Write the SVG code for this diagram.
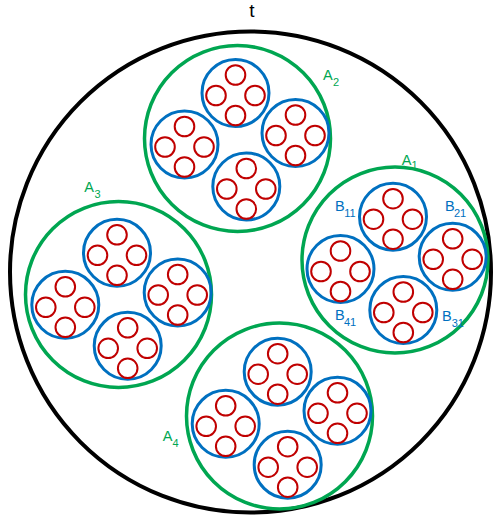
<svg xmlns="http://www.w3.org/2000/svg" xmlns:xlink="http://www.w3.org/1999/xlink" width="498" height="521" viewBox="0 0 498 521">
<style>
.outer{fill:none;stroke:#000;stroke-width:4}
.ga{fill:none;stroke:#00A651;stroke-width:3.5}
.bb{fill:none;stroke:#0070C0;stroke-width:3}
.rc{fill:none;stroke:#C00000;stroke-width:2}
.lbl{font-family:"Liberation Sans",Arial,sans-serif;font-size:14.5px}
.sub{font-size:11px}
.ga-t{fill:#00A651}
.bb-t{fill:#0070C0}
.tt{font-family:"Liberation Sans",Arial,sans-serif;font-size:19px;fill:#000}
</style>
<defs>
<g id="unit">
<circle class="bb" cx="0" cy="0" r="33.5"/>
<circle class="rc" cx="0" cy="-18" r="9.8"/>
<circle class="rc" cx="-19.5" cy="2.5" r="9.8"/>
<circle class="rc" cx="19.5" cy="2.5" r="9.8"/>
<circle class="rc" cx="0" cy="22.5" r="9.8"/>
</g>
</defs>
<g id="t">
<circle class="outer" cx="250.5" cy="272" r="240.5"/>
<text class="tt" x="252" y="16.5" text-anchor="middle">t</text>
</g>
<g id="A2">
<circle class="ga" cx="237.5" cy="138.5" r="93"/>
<use xlink:href="#unit" href="#unit" x="235.5" y="93"/>
<use xlink:href="#unit" href="#unit" x="184.5" y="144.5"/>
<use xlink:href="#unit" href="#unit" x="295.5" y="133"/>
<use xlink:href="#unit" href="#unit" x="246.3" y="186.5"/>
<text class="lbl ga-t" x="323" y="80">A<tspan class="sub" x="333" y="85.5">2</tspan></text>
</g>
<g id="A1">
<circle class="ga" cx="395" cy="260" r="93"/>
<g id="B11"><use xlink:href="#unit" href="#unit" x="393" y="216.7"/><text class="lbl bb-t" x="335" y="211">B<tspan class="sub" x="344.3" y="216.5">11</tspan></text></g>
<g id="B21"><use xlink:href="#unit" href="#unit" x="452.7" y="256.8"/><text class="lbl bb-t" x="445" y="211">B<tspan class="sub" x="454" y="217">21</tspan></text></g>
<g id="B41"><use xlink:href="#unit" href="#unit" x="340.5" y="269"/><text class="lbl bb-t" x="335" y="320">B<tspan class="sub" x="344" y="325.5">41</tspan></text></g>
<g id="B31"><use xlink:href="#unit" href="#unit" x="403.3" y="310"/><text class="lbl bb-t" x="442" y="320.7">B<tspan class="sub" x="451.7" y="326.5">31</tspan></text></g>
<text class="lbl ga-t" x="401.7" y="165">A<tspan class="sub" x="411.5" y="169">1</tspan></text>
</g>
<g id="A3">
<circle class="ga" cx="118.5" cy="294.5" r="93"/>
<use xlink:href="#unit" href="#unit" x="117" y="252.8"/>
<use xlink:href="#unit" href="#unit" x="65.3" y="304.8"/>
<use xlink:href="#unit" href="#unit" x="177.7" y="292.5"/>
<use xlink:href="#unit" href="#unit" x="127.7" y="345.8"/>
<text class="lbl ga-t" x="84.3" y="192.3">A<tspan class="sub" x="94.5" y="197.5">3</tspan></text>
</g>
<g id="A4">
<circle class="ga" cx="279.5" cy="416" r="93"/>
<use xlink:href="#unit" href="#unit" x="277.7" y="371.7"/>
<use xlink:href="#unit" href="#unit" x="225.7" y="423.8"/>
<use xlink:href="#unit" href="#unit" x="337.5" y="410.8"/>
<use xlink:href="#unit" href="#unit" x="287.7" y="464.7"/>
<text class="lbl ga-t" x="162.7" y="441">A<tspan class="sub" x="172.5" y="446.5">4</tspan></text>
</g>
<g id="connectors"/>
</svg>
